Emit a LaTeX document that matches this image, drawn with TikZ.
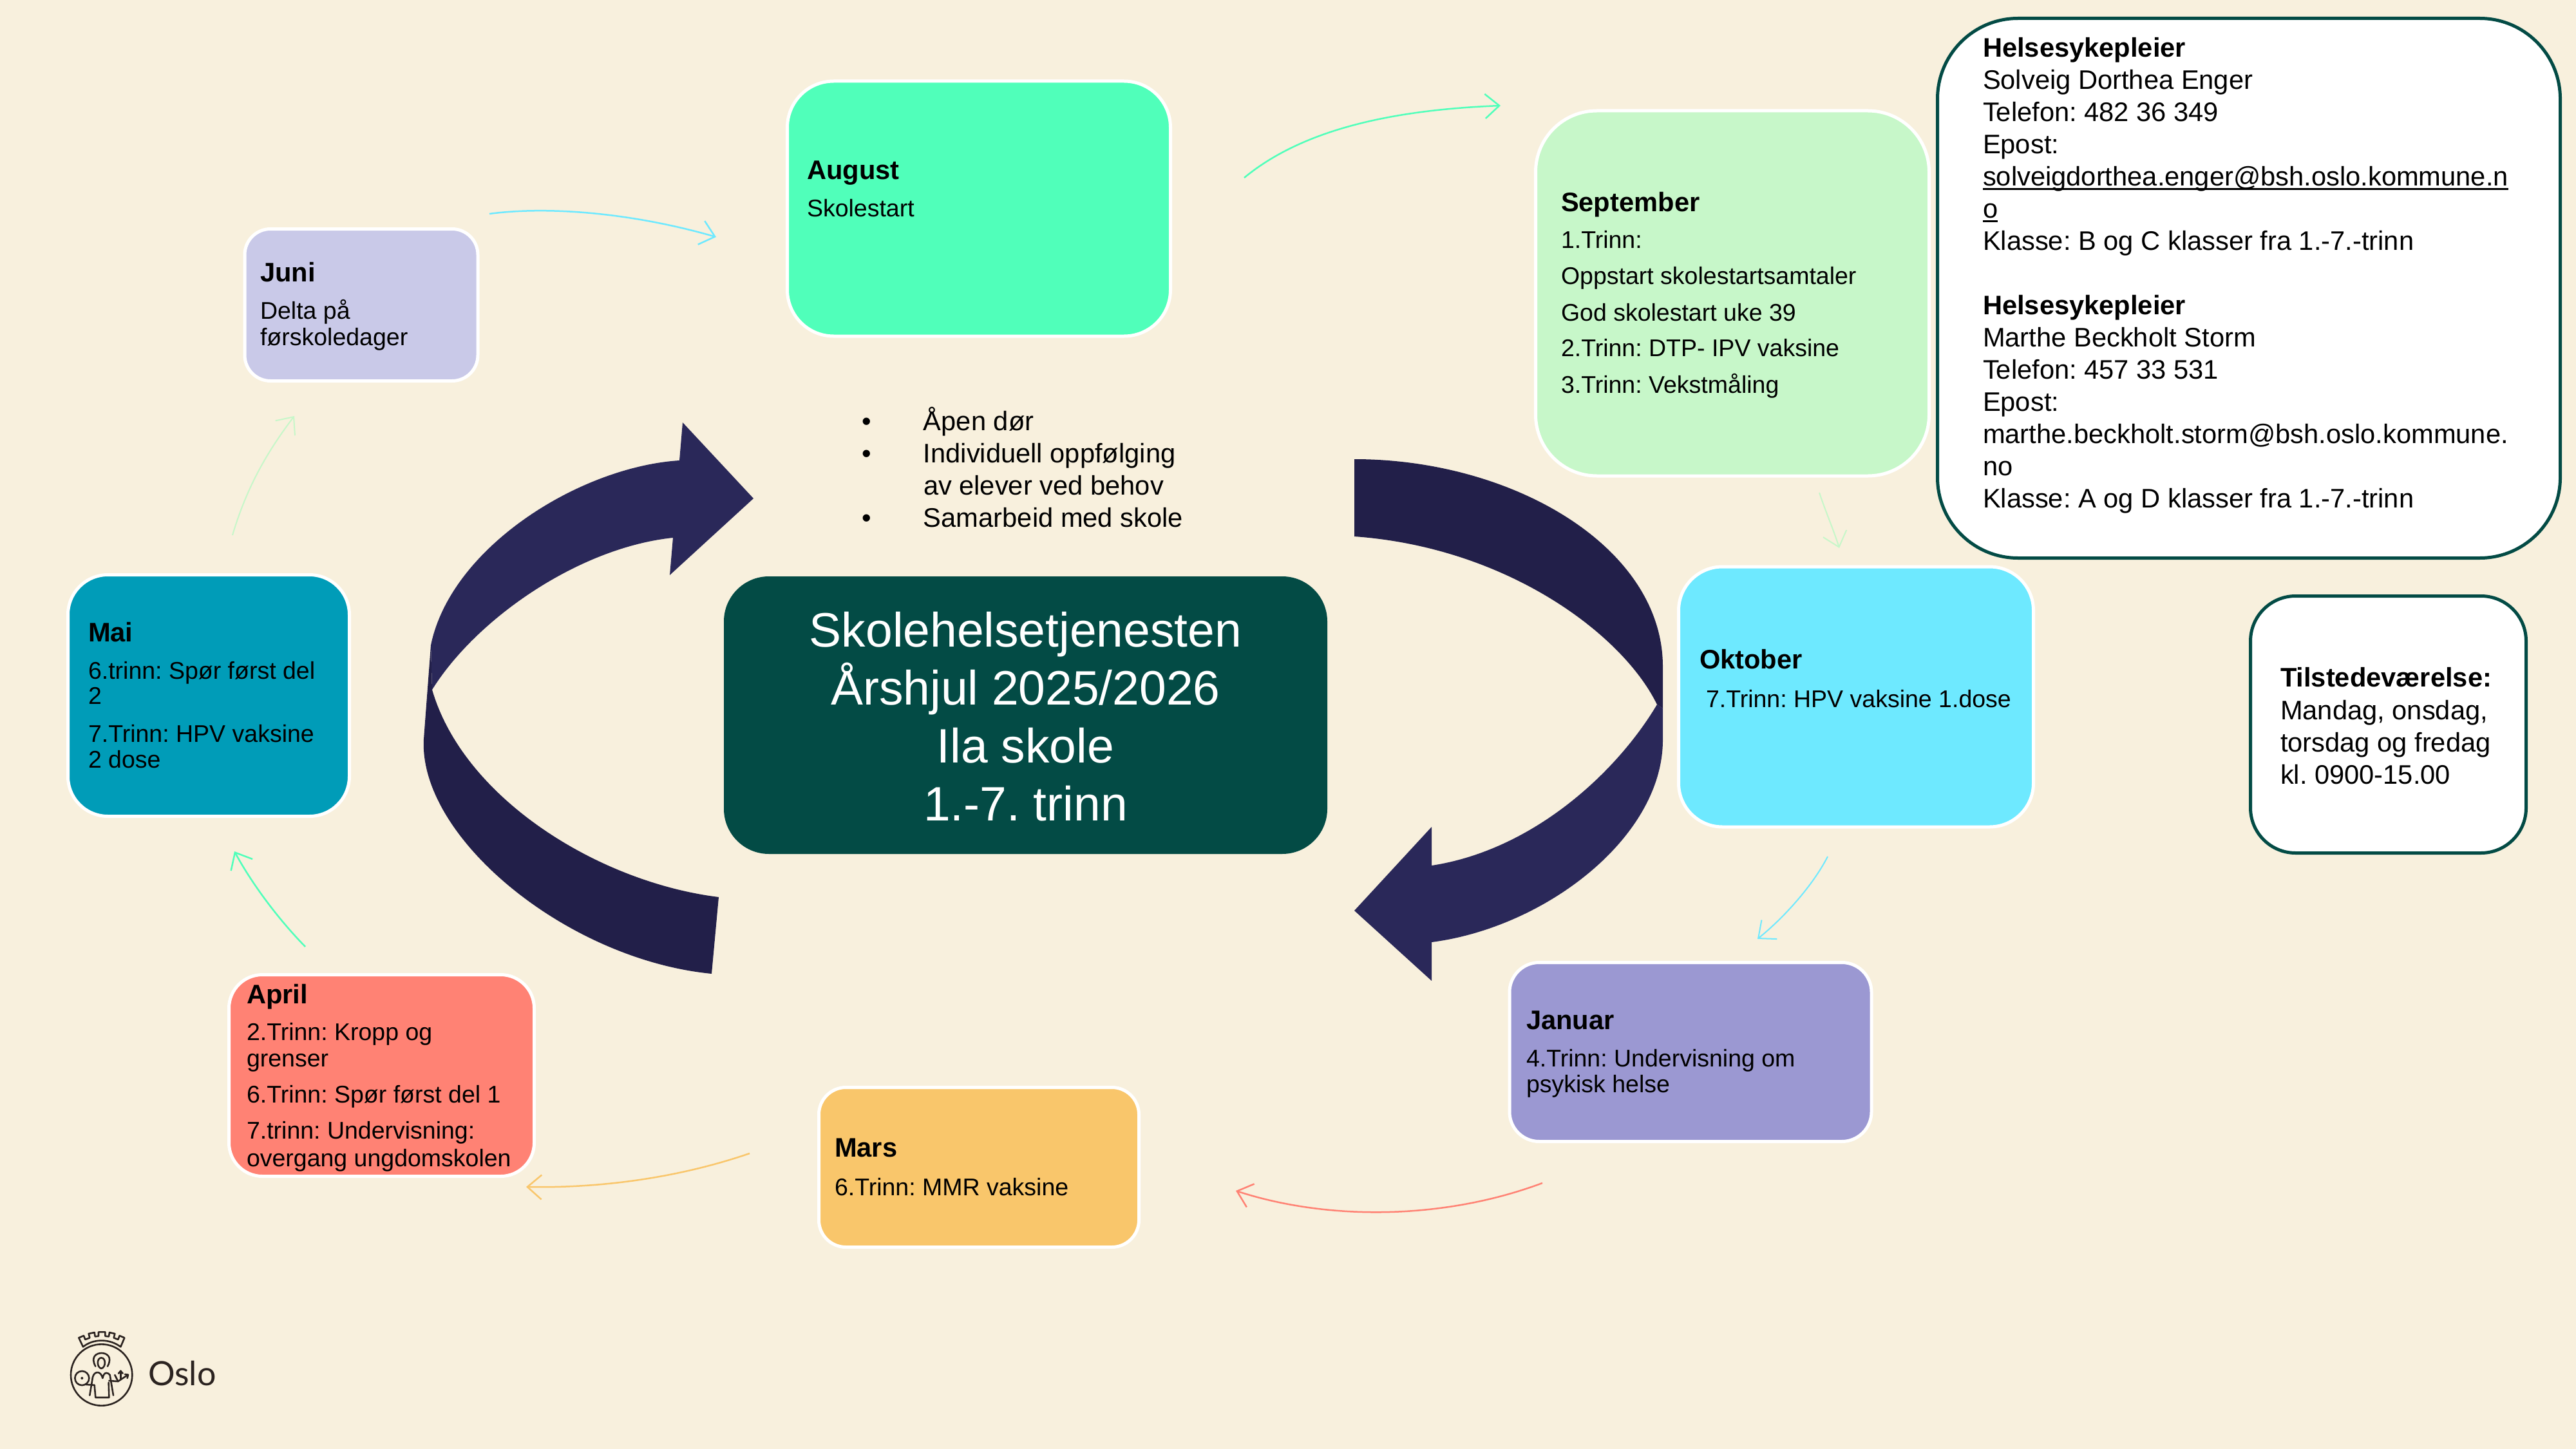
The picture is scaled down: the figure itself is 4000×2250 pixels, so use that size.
\documentclass[tikz,border=0pt]{standalone}
\usepackage{fontspec}
\setmainfont{Liberation Sans}
\newfontfamily\oslofont{Lato}
\usetikzlibrary{arrows.meta}
\AtBeginDocument{\frenchspacing}
\definecolor{bgc}{HTML}{F8F0DD}
\definecolor{deepgreen}{HTML}{034B45}
\definecolor{ribbonA}{HTML}{2A2859}
\definecolor{ribbonB}{HTML}{221F49}
\definecolor{cAug}{HTML}{50FFBA}
\definecolor{cSep}{HTML}{C7F7C9}
\definecolor{cOkt}{HTML}{6EE9FF}
\definecolor{cJan}{HTML}{9B98D2}
\definecolor{cMar}{HTML}{F9C66B}
\definecolor{cApr}{HTML}{FF8274}
\definecolor{cMai}{HTML}{009CB8}
\definecolor{cJun}{HTML}{C9C9E8}
\definecolor{logoink}{HTML}{2B2320}
\newcommand\bodyfs{\fontsize{37.5}{40}\selectfont}
\newcommand\headfs{\fontsize{41.67}{50}\selectfont}
\newcommand\TL[2]{\kern#1pt\nointerlineskip\hbox{\smash{#2}}}
\newcommand\ulrule[1]{\setbox0\hbox{#1}\rlap{\raisebox{-6pt}{\rule{\wd0}{2.6pt}}}\box0}
\tikzset{
  x=1pt,y=-1pt,
  monthbox/.style={draw=white,line width=5pt,inner sep=0pt,outer sep=0pt},
  infobox/.style={draw=deepgreen,fill=white,line width=5pt,inner sep=0pt,outer sep=0pt},
  txt/.style={anchor=base west,inner sep=0pt,outer sep=0pt,text=black},
  link/.style={line width=#1,-{Straight Barb[length=22pt,width=38pt]}},
  link/.default=3pt,
  logoline/.style={draw=logoink,line width=2.6pt,line join=round,line cap=round,fill=none}
}
\begin{document}
\begin{tikzpicture}
\useasboundingbox (0,0) rectangle (4000,2250);
\fill[bgc] (0,0) rectangle (4000,2250);

% big ribbons
\fill[ribbonB] (669,1002) -- (658,1148) .. controls (650,1300) and (880,1490) .. (1105,1512)
  -- (1116,1393) .. controls (930,1370) and (720,1240) .. (671,1071) -- cycle;
\fill[ribbonA] (1170,774) -- (1040,893) -- (1045,835) .. controls (900,850) and (740,960) .. (671,1071)
  -- (669,1002) .. controls (700,850) and (900,725) .. (1055,715) -- (1060,656) -- cycle;
\fill[ribbonB] (2103,713) .. controls (2350,713) and (2582,850) .. (2582,1035) -- (2582,1100) -- (2573,1094)
  .. controls (2520,985) and (2340,850) .. (2103,833) -- cycle;
\fill[ribbonA] (2573,1094) -- (2582,1100) -- (2582,1149) .. controls (2582,1300) and (2400,1440) .. (2223,1463)
  -- (2223,1523) -- (2103,1414) -- (2223,1284) -- (2223,1344) .. controls (2380,1320) and (2510,1200) .. (2573,1094) -- cycle;

% month boxes
\node[monthbox,fill=cAug,rounded corners=72pt,minimum width=595pt,minimum height=396pt] (aug) at (1520,324) {};
\node[monthbox,fill=cSep,rounded corners=95pt,minimum width=611pt,minimum height=567pt] (sep) at (2690,455.5) {};
\node[monthbox,fill=cOkt,rounded corners=68pt,minimum width=551pt,minimum height=404pt] (okt) at (2882,1082) {};
\node[monthbox,fill=cJan,rounded corners=46pt,minimum width=562pt,minimum height=278pt] (jan) at (2625,1633.5) {};
\node[monthbox,fill=cMar,rounded corners=42pt,minimum width=497pt,minimum height=248pt] (mar) at (1520,1812.5) {};
\node[monthbox,fill=cApr,rounded corners=52pt,minimum width=474pt,minimum height=313pt] (apr) at (592.5,1670) {};
\node[monthbox,fill=cMai,rounded corners=62pt,minimum width=437pt,minimum height=375pt] (mai) at (324,1080) {};
\node[monthbox,fill=cJun,rounded corners=40pt,minimum width=362pt,minimum height=236pt] (jun) at (561,473.5) {};

% centre
\node[fill=deepgreen,rounded corners=70pt,inner sep=0pt,outer sep=0pt,minimum width=937pt,minimum height=431pt] (hub) at (1592.5,1110.5) {};
\node[text=white,align=center,inner sep=0pt,outer sep=0pt,font=\fontsize{75}{90}\selectfont] (hubtxt) at (1592.5,1113)
  {Skolehelsetjenesten\\Årshjul 2025/2026\\Ila skole\\1.-7. trinn};

% info boxes
\node[infobox,rounded corners=125pt,minimum width=967pt,minimum height=838pt] (kontakt) at (3492,447.5) {};
\node[infobox,rounded corners=70pt,minimum width=428pt,minimum height=399pt] (tid) at (3708.5,1125) {};

% connector ends
\coordinate (ja) at (760,332);   \coordinate (aj) at (1112,368);
\coordinate (as) at (1932,276);  \coordinate (sa) at (2330,164);
\coordinate (so) at (2825,765);  \coordinate (os) at (2856,851);
\coordinate (oj) at (2838,1330); \coordinate (jo) at (2729,1458);
\coordinate (jm) at (2395,1837); \coordinate (mj) at (1919,1849);
\coordinate (ma) at (1164,1791); \coordinate (am) at (817,1843);
\coordinate (ai) at (474,1470);  \coordinate (ia) at (364,1322);
\coordinate (ij) at (361,831);   \coordinate (ji) at (457,646);

\draw[link=2.5pt,cOkt] (ja) .. controls (850,320) and (980,330) .. (aj);
\draw[link=2.5pt,cAug] (as) .. controls (2030,195) and (2180,170) .. (sa);
\draw[link=2pt,cSep] (so) .. controls (2835,795) and (2848,825) .. (os);
\draw[link=2pt,cOkt] (oj) .. controls (2815,1375) and (2770,1425) .. (jo);
\draw[link=2.5pt,cApr] (jm) .. controls (2240,1895) and (2060,1895) .. (mj);
\draw[link=2.5pt,cMar] (ma) .. controls (1050,1830) and (930,1845) .. (am);
\draw[link=2.5pt,cAug] (ai) .. controls (430,1425) and (390,1370) .. (ia);
\draw[link=2pt,cSep] (ij) .. controls (385,750) and (420,695) .. (ji);

% texts
\node[txt] (juntxt) at (404,437) {\vtop{\TL{0}{\headfs\bfseries Juni}\bodyfs\TL{58}{Delta på}\TL{41}{førskoledager}}};
\node[txt] (augtxt) at (1253,279) {\vtop{\TL{0}{\headfs\bfseries August}\bodyfs\TL{58}{Skolestart}}};
\node[txt] (septxt) at (2424,329) {\vtop{\TL{0}{\headfs\bfseries September}\bodyfs
  \TL{57}{1.Trinn:}\TL{56}{Oppstart skolestartsamtaler}\TL{57}{God skolestart uke 39}\TL{55}{2.Trinn: DTP- IPV vaksine}\TL{57}{3.Trinn: Vekstmåling}}};
\node[txt] (okttxt) at (2639,1038) {\vtop{\TL{0}{\headfs\bfseries Oktober}\bodyfs\TL{60}{\hspace*{10pt}7.Trinn: HPV vaksine 1.dose}}};
\node[txt] (jantxt) at (2370,1598) {\vtop{\TL{0}{\headfs\bfseries Januar}\bodyfs\TL{58}{4.Trinn: Undervisning om}\TL{40}{psykisk helse}}};
\node[txt] (martxt) at (1296,1796) {\vtop{\TL{0}{\headfs\bfseries Mars}\bodyfs\TL{60}{6.Trinn: MMR vaksine}}};
\node[txt] (aprtxt) at (383,1558) {\vtop{\TL{0}{\headfs\bfseries April}\bodyfs
  \TL{57}{2.Trinn: Kropp og}\TL{41}{grenser}\TL{56}{6.Trinn: Spør først del 1}\TL{56}{7.trinn: Undervisning:}\TL{43}{overgang ungdomskolen}}};
\node[txt] (maitxt) at (137,996) {\vtop{\TL{0}{\headfs\bfseries Mai}\bodyfs
  \TL{58}{6.trinn: Spør først del}\TL{39}{2}\TL{59}{7.Trinn: HPV vaksine}\TL{40}{2 dose}}};
\node[txt] (bultxt) at (1338,668) {\vtop{\headfs
  \TL{0}{\makebox[96pt][l]{\textbullet}Åpen dør}
  \TL{50}{\makebox[96pt][l]{\textbullet}Individuell oppfølging}
  \TL{50}{\hspace*{96pt}av elever ved behov}
  \TL{50}{\makebox[96pt][l]{\textbullet}Samarbeid med skole}}};
\node[txt] (konttxt) at (3079,89) {\vtop{\headfs
  \TL{0}{\bfseries Helsesykepleier}
  \TL{50}{Solveig Dorthea Enger}
  \TL{50}{Telefon: 482 36 349}
  \TL{50}{Epost:}
  \TL{50}{\ulrule{solveigdorthea.enger@bsh.oslo.kommune.n}}
  \TL{50}{\ulrule{o}}
  \TL{50}{Klasse: B og C klasser fra 1.-7.-trinn}
  \TL{100}{\bfseries Helsesykepleier}
  \TL{50}{Marthe Beckholt Storm}
  \TL{50}{Telefon: 457 33 531}
  \TL{50}{Epost:}
  \TL{50}{marthe.beckholt.storm@bsh.oslo.kommune.}
  \TL{50}{no}
  \TL{50}{Klasse: A og D klasser fra 1.-7.-trinn}}};
\node[txt] (tidtxt) at (3541,1066) {\vtop{\headfs
  \TL{0}{\bfseries Tilstedeværelse:}
  \TL{51}{Mandag, onsdag,}
  \TL{50}{torsdag og fredag}
  \TL{50}{kl. 0900-15.00}}};

% Oslo logo
\begin{scope}[shift={(50,2000)},scale=1/3]
  \draw[logoline] (323,405) circle (143);
  \draw[logoline] (217,232) -- (240,222) -- (247,240) -- (268,232) -- (263,213) -- (290,207) -- (293,226) -- (309,224) -- (309,205) -- (340,205) -- (340,224) -- (357,226) -- (360,207) -- (385,213) -- (380,232) -- (400,240) -- (407,222) -- (430,232) -- (412,274) .. controls (360,235) and (285,235) .. (237,274) -- cycle;
  \draw[logoline] (295,365) .. controls (270,320) and (300,303) .. (323,303) .. controls (346,303) and (376,320) .. (351,365);
  \draw[logoline] (322,325) .. controls (300,325) and (300,370) .. (322,375) .. controls (344,370) and (344,325) .. (322,325);
  \draw[logoline] (232,420) circle (33);
  \fill[logoink] (232,420) circle (6);
  \draw[logoline] (252,450) -- (290,452) -- (295,510) -- (358,510) -- (356,440);
  \draw[logoline] (282,415) .. controls (290,385) and (320,385) .. (328,420) .. controls (335,385) and (355,395) .. (362,405);
  \draw[logoline] (282,415) -- (268,500);
  \draw[logoline] (362,405) -- (378,500);
  \draw[logoline] (358,432) -- (400,435) -- (445,405);
  \draw[logoline] (400,435) -- (385,405);
  \draw[logoline] (412,425) -- (412,388);
  \draw[logoline] (402,398) -- (412,386) -- (422,398);
  \draw[logoline] (432,402) -- (447,404) -- (443,420);
\end{scope}
\node[anchor=base west,inner sep=0pt,outer sep=0pt,text=logoink,font=\oslofont\fontsize{52}{60}\selectfont] (oslo) at (230,2151) {Oslo};
\end{tikzpicture}
\end{document}
